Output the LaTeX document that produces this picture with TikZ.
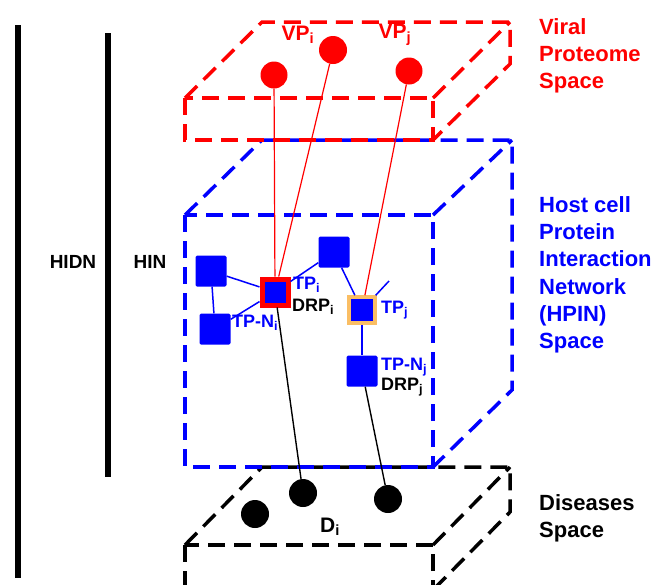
\documentclass[tikz,border=0pt]{standalone}
\usepackage{fontspec}
\setmainfont{Liberation Sans}
\usetikzlibrary{positioning}
\definecolor{vpred}{RGB}{255, 0, 0}
\definecolor{hpblue}{RGB}{0, 0, 255}
\definecolor{tporange}{RGB}{250, 190, 100}

\begin{document}
\begin{tikzpicture}[x=1pt, y=-1pt,
    space/.style={dash pattern=on 17pt off 9pt, line width=3.5pt},
    vdot/.style={circle, fill=vpred, minimum size=27pt, inner sep=0pt},
    ddot/.style={circle, fill=black, minimum size=28pt, inner sep=0pt},
    prot/.style={rectangle, fill=hpblue, minimum size=31pt, inner sep=0pt, rounded corners=1.5pt},
    drp/.style={rectangle, fill=hpblue, minimum size=26pt, inner sep=0pt},
    lab/.style={inner sep=0pt, anchor=west, font=\fontsize{18}{20}\bfseries},
    side/.style={inner sep=0pt, anchor=north west, align=left, font=\fontsize{22}{27.3}\bfseries},
    vline/.style={vpred, line width=1.2pt},
    hline/.style={hpblue, line width=1.5pt},
    dline/.style={black, line width=1.4pt}
  ]
    \useasboundingbox (0,0) rectangle (658,584);
    \clip (0,0) rectangle (658,584);
    % network levels
    \draw[line width=6pt] (18,25) -- (18,578);
    \draw[line width=6pt] (108,33) -- (108,477);
    \node[font=\fontsize{19}{21}\bfseries] (hidn) at (73,262) {HIDN};
    \node[font=\fontsize{19}{21}\bfseries] (hin) at (150,262) {HIN};
    % disease space
    \draw[space] (185,545) rectangle (433,590);
    \draw[space] (185,545) -- (262,467) -- (510,467) -- (510,512) -- (433,590);
    \draw[space] (433,545) -- (510,467);
    % host space
    \draw[space, hpblue] (185,215) rectangle (433,467);
    \draw[space, hpblue] (185,215) -- (262,140) -- (512,140) -- (512,390) -- (433,467);
    \draw[space, hpblue] (433,215) -- (512,140);
    % viral space
    \draw[space, vpred] (185,98) rectangle (433,140);
    \draw[space, vpred] (185,98) -- (262,22) -- (510,22) -- (510,64) -- (433,140);
    \draw[space, vpred] (433,98) -- (510,22);

    \node[vdot] (vpa) at (274,75) {};
    \node[vdot, minimum size=28pt] (vpi) at (333,50) {};
    \node[vdot] (vpj) at (409,71) {};
    \node[font=\fontsize{21}{23}\bfseries, text=vpred] (vpilab) at (298,35) {VP\textsubscript{i}};
    \node[font=\fontsize{21}{23}\bfseries, text=vpred] (vpjlab) at (395,35) {VP\textsubscript{j}};

    \node[prot] (pa) at (211,271) {};
    \node[prot] (tpni) at (215,329) {};
    \node[drp, draw=vpred, line width=5pt] (tpi) at (275,292) {};
    \node[prot] (pc) at (334,252) {};
    \node[drp, draw=tporange, line width=3.5pt] (tpj) at (362,310) {};
    \node[prot] (tpnj) at (362,371) {};
    \coordinate (stub) at (389,281);

    \node[ddot] (da) at (303,493) {};
    \node[ddot] (db) at (388,499) {};
    \node[ddot] (di) at (255,514) {};

    \draw[hline] (pa) -- (tpni);
    \draw[hline] (pa) -- (tpi);
    \draw[hline] (tpni) -- (tpi);
    \draw[hline] (pc) -- (tpi);
    \draw[hline] (pc) -- (tpj);
    \draw[hline] (tpj) -- (stub);
    \draw[hline] (tpj) -- (tpnj);
    \draw[vline] (vpa) -- (tpi);
    \draw[vline] (vpi) -- (tpi);
    \draw[vline] (vpj) -- (tpj);
    \draw[dline] (tpi) -- (da);
    \draw[dline] (tpnj) -- (db);

    \node[lab, text=hpblue] (tpilab) at (293,285) {TP\textsubscript{i}};
    \node[lab] (drpilab) at (292,307) {DRP\textsubscript{i}};
    \node[lab, text=hpblue] (tpnilab) at (232,323) {TP-N\textsubscript{i}};
    \node[lab, text=hpblue] (tpjlab) at (381,310) {TP\textsubscript{j}};
    \node[lab, text=hpblue] (tpnjlab) at (381,367) {TP-N\textsubscript{j}};
    \node[lab] (drpjlab) at (381,387) {DRP\textsubscript{j}};
    \node[font=\fontsize{21}{23}\bfseries] (dilab) at (330,527) {D\textsubscript{i}};

    \node[side, text=vpred] (vps) at (539,18) {Viral\\Proteome\\Space};
    \node[side, text=hpblue] (hpin) at (539,196) {Host cell\\Protein\\Interaction\\Network\\(HPIN)\\Space};
    \node[side] (dis) at (539,494) {Diseases\\Space};
  \end{tikzpicture}
\end{document}
